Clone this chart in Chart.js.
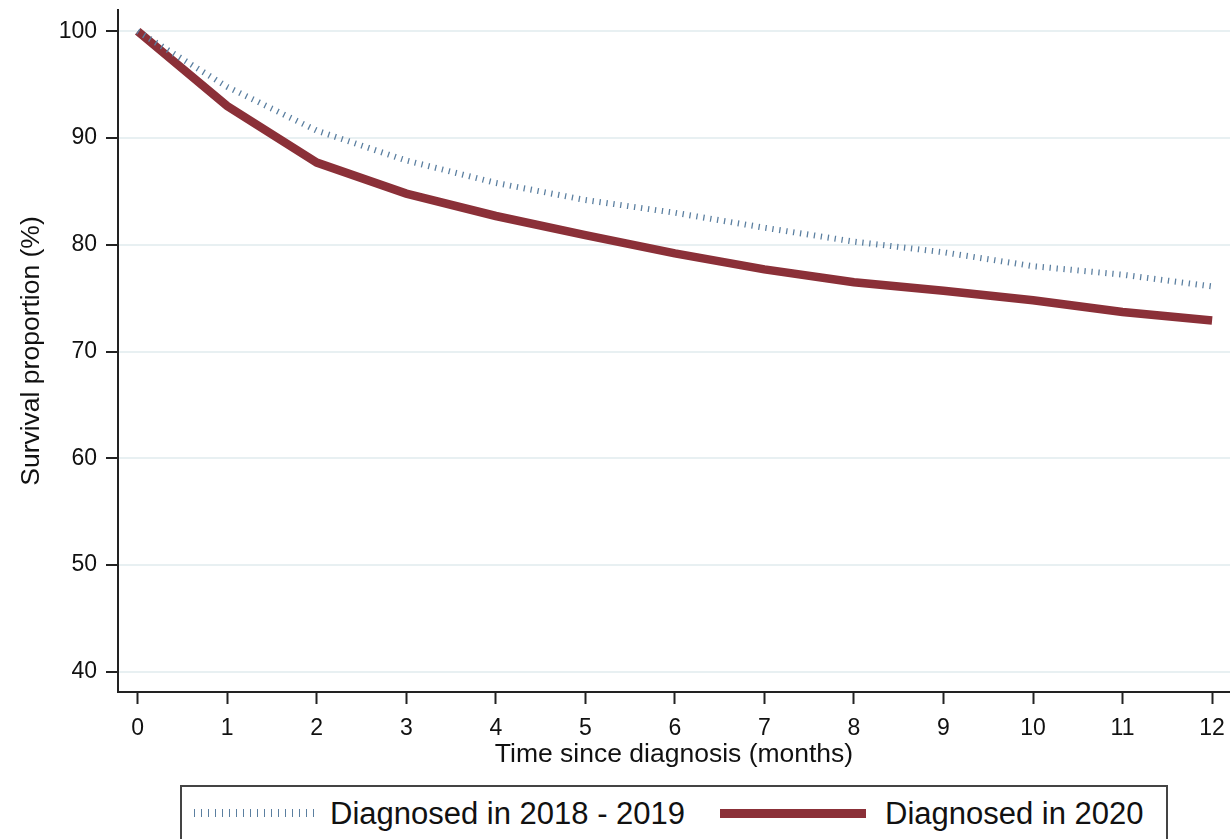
<!DOCTYPE html>
<html>
<head>
<meta charset="utf-8">
<script src="https://cdn.jsdelivr.net/npm/chart.js@4"></script>
<style>
  body { margin: 0; background: #fff; font-family: "Liberation Sans", Arial, sans-serif; }
  #wrap { position: relative; width: 1230px; height: 839px; overflow: hidden; }
  #chartBox { position: absolute; left: 0; top: 0; width: 1230px; height: 771px; }
  #legend { position: absolute; left: 180px; top: 785px; width: 988px; height: 70px;
            border: 2px solid #444; box-sizing: border-box; }
  .lbl { position: absolute; top: 9px; font-size: 31px; color: #111; white-space: nowrap; }
  .sample { position: absolute; }
</style>
</head>
<body>
<div id="wrap">
  <div id="chartBox"><canvas id="survivalChart"></canvas></div>
  <div id="legend">
    <div class="sample" style="left:12px; top:22px; width:120px; height:8px;
         background: repeating-linear-gradient(90deg, #5b7fa0 0 1.3px, transparent 1.3px 7px);"></div>
    <div class="lbl" style="left:148px;">Diagnosed in 2018 - 2019</div>
    <div class="sample" style="left:538px; top:22px; width:146px; height:9px; background:#8b3038;"></div>
    <div class="lbl" style="left:703px;">Diagnosed in 2020</div>
  </div>
</div>
<script>
// months since diagnosis
const months = [0, 1, 2, 3, 4, 5, 6, 7, 8, 9, 10, 11, 12];
// survival proportion (%)
const survival2018to2019 = [100, 94.8, 90.7, 87.9, 85.8, 84.2, 83.0, 81.6, 80.3, 79.3, 78.0, 77.2, 76.1];
const survival2020 = [100, 93.0, 87.7, 84.8, 82.7, 80.9, 79.2, 77.7, 76.5, 75.7, 74.8, 73.7, 72.9];
const yTicks = [40, 50, 60, 70, 80, 90, 100];

const labelFont = { family: 'Liberation Sans', size: 23 };
const titleFont = { family: 'Liberation Sans', size: 26.5 };

function toPoints(values) {
    return months.map((m, i) => ({ x: m, y: values[i] }));
}

// drop the extra room chart.js keeps for edge labels
function noEdgePadding(scale) {
    scale.paddingTop = 0;
    scale.paddingBottom = 0;
    scale.paddingLeft = 0;
    scale.paddingRight = 0;
}

function renderSurvivalChart() {
    const ctx = document.querySelector('#survivalChart').getContext('2d');
    new Chart(ctx, {
        type: 'line',
        data: {
            datasets: [
                {
                    label: 'Diagnosed in 2018 - 2019',
                    data: toPoints(survival2018to2019),
                    borderColor: '#5b7fa0',
                    borderWidth: 6,
                    borderDash: [1.3, 5.7],
                    borderCapStyle: 'butt',
                    pointRadius: 0,
                    tension: 0,
                    fill: false,
                },
                {
                    label: 'Diagnosed in 2020',
                    data: toPoints(survival2020),
                    borderColor: '#8b3038',
                    borderWidth: 8.5,
                    borderCapStyle: 'butt',
                    pointRadius: 0,
                    tension: 0,
                    fill: false,
                },
            ],
        },
        options: {
            responsive: true,
            maintainAspectRatio: false,
            animation: false,
            layout: { padding: { top: 10, right: 0, left: 16, bottom: 0 } },
            plugins: {
                legend: { display: false },
                tooltip: { enabled: false },
            },
            scales: {
                x: {
                    type: 'linear',
                    min: -0.22,
                    max: 12.2,
                    afterBuildTicks: (scale) => { scale.ticks = months.map(v => ({ value: v })); },
                    ticks: { color: '#111', font: labelFont, padding: 11, maxRotation: 0 },
                    grid: { drawOnChartArea: false, drawTicks: true, tickLength: 12, tickColor: '#222', tickWidth: 2 },
                    border: { color: '#222', width: 2 },
                    title: { display: true, text: 'Time since diagnosis (months)', color: '#111', font: titleFont, padding: { top: 0, bottom: 0 } },
                    afterFit: (scale) => { scale.height = 79; noEdgePadding(scale); },
                },
                y: {
                    min: 38.1,
                    max: 102,
                    afterBuildTicks: (scale) => { scale.ticks = yTicks.map(v => ({ value: v })); },
                    ticks: { color: '#111', font: labelFont, padding: 9 },
                    grid: { color: '#e8f0f2', lineWidth: 2, tickLength: 12, tickColor: '#222', tickWidth: 2 },
                    border: { color: '#222', width: 2 },
                    title: { display: true, text: 'Survival proportion (%)', color: '#111', font: titleFont, padding: { top: 0, bottom: 0 } },
                    afterFit: (scale) => { scale.width = 102; noEdgePadding(scale); },
                },
            },
        },
    });
}

document.addEventListener('DOMContentLoaded', renderSurvivalChart);
</script>
</body>
</html>
